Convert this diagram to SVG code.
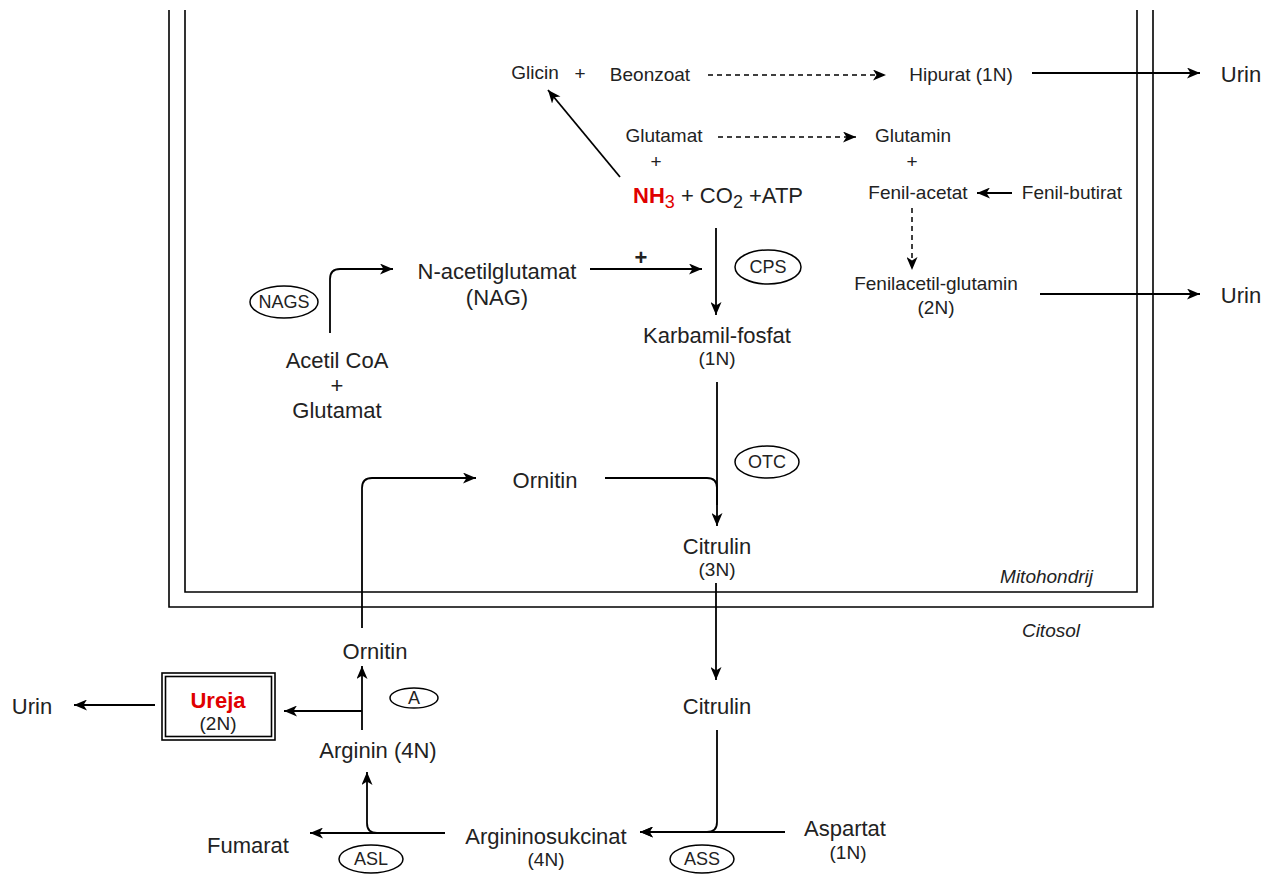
<svg xmlns="http://www.w3.org/2000/svg" width="1277" height="876" viewBox="0 0 1277 876">
<defs>
<marker id="ah" viewBox="0 0 13 11" refX="13" refY="5.5" markerWidth="13" markerHeight="11" orient="auto" markerUnits="userSpaceOnUse">
<path d="M0,0 L13,5.5 L0,11 L3.5,5.5 z" fill="#000"/>
</marker>
<style>
text{font-family:"Liberation Sans",Arial,sans-serif;fill:#222}
.m{font-size:22px}
.s{font-size:19px}
.e{font-size:18px}
.c{text-anchor:middle}
.i{font-style:italic;font-size:19px;text-anchor:end}
.red{fill:#e00000;font-weight:bold}
.ln{fill:none;stroke:#000;stroke-width:1.8}
.ar{fill:none;stroke:#000;stroke-width:1.8;marker-end:url(#ah)}
.da{fill:none;stroke:#000;stroke-width:1.5;stroke-dasharray:5 4;marker-end:url(#ah)}
.el{fill:#fff;stroke:#000;stroke-width:1.5}
.bx{fill:none;stroke:#000;stroke-width:1.6}
</style>
</defs>
<rect width="1277" height="876" fill="#fff"/>
<g id="compartments">
<path class="bx" d="M169,10 V607 H1153 V10"/>
<path class="bx" d="M185,10 V592 H1137 V10"/>
<text class="i" x="1093" y="583">Mitohondrij</text>
<text class="i" x="1080" y="637">Citosol</text>
</g>
<g id="connectors">
<path class="da" d="M708,75 H886"/>
<path class="ar" d="M1032,73 H1200"/>
<path class="ar" d="M620,177 L548,90"/>
<path class="da" d="M718,137 H856"/>
<path class="ar" d="M1012,193 H977"/>
<path class="da" d="M912,208 V270"/>
<path class="ar" d="M1040,294 H1200"/>
<path class="ar" d="M716,228 V315"/>
<path class="ar" d="M590,269 H702"/>
<path class="ar" d="M330,333 V279 Q330,269 340,269 H393"/>
<path class="ar" d="M717,382 V526"/>
<path class="ar" d="M362,628 V488 Q362,478 372,478 H476"/>
<path class="ln" d="M605,478 H707 Q717,478 717,488 V505"/>
<path class="ar" d="M716,583 V680"/>
<path class="ar" d="M717,730 V822 Q717,832 707,832 H640"/>
<path class="ar" d="M785,832 H640"/>
<path class="ar" d="M445,833 H310"/>
<path class="ar" d="M377,833 Q367,833 367,823 V772"/>
<path class="ar" d="M362,730 V666"/>
<path class="ar" d="M362,711 H284"/>
<path class="ar" d="M155,705 H74"/>
</g>
<g id="glicin"><text class="s c" x="535" y="79">Glicin</text></g>
<g id="plus1"><text class="s c" x="580" y="80">+</text></g>
<g id="beonzoat"><text class="s c" x="650" y="81">Beonzoat</text></g>
<g id="hipurat"><text class="s c" x="961" y="81">Hipurat (1N)</text></g>
<g id="urin1"><text class="m c" x="1241" y="82">Urin</text></g>
<g id="glutamat1"><text class="s c" x="664" y="142">Glutamat</text></g>
<g id="glutamin"><text class="s c" x="913" y="142">Glutamin</text></g>
<g id="plus2"><text class="s c" x="656" y="168">+</text></g>
<g id="plus3"><text class="s c" x="912" y="168">+</text></g>
<g id="nh3"><text class="m" x="633" y="203"><tspan class="red">NH</tspan><tspan fill="#e00000" font-size="18" dy="5">3</tspan><tspan dy="-5"> + CO</tspan><tspan font-size="18" dy="5">2</tspan><tspan dy="-5"> +ATP</tspan></text></g>
<g id="fenilacetat"><text class="s c" x="918" y="199">Fenil-acetat</text></g>
<g id="fenilbutirat"><text class="s c" x="1072" y="199">Fenil-butirat</text></g>
<g id="fenilacetilglutamin"><text class="s c" x="936" y="290">Fenilacetil-glutamin</text><text class="s c" x="936" y="314">(2N)</text></g>
<g id="urin2"><text class="m c" x="1241" y="303">Urin</text></g>
<g id="cps"><ellipse class="el" cx="768" cy="267" rx="33" ry="17"/><text class="e c" x="768" y="273">CPS</text></g>
<g id="nag"><text class="m c" x="497" y="279">N-acetilglutamat</text><text class="m c" x="497" y="305">(NAG)</text></g>
<g id="plus4"><text class="m c" x="641" y="265" font-weight="bold">+</text></g>
<g id="nags"><ellipse class="el" cx="284" cy="302" rx="34" ry="16"/><text class="e c" x="284" y="308">NAGS</text></g>
<g id="acetilcoa"><text class="m c" x="337" y="368">Acetil CoA</text><text class="m c" x="337" y="393">+</text><text class="m c" x="337" y="418">Glutamat</text></g>
<g id="karbamil"><text class="m c" x="717" y="343">Karbamil-fosfat</text><text class="s c" x="717" y="365">(1N)</text></g>
<g id="otc"><ellipse class="el" cx="767" cy="462" rx="32" ry="16"/><text class="e c" x="767" y="468">OTC</text></g>
<g id="ornitin1"><text class="m c" x="545" y="488">Ornitin</text></g>
<g id="citrulin1"><text class="m c" x="717" y="554">Citrulin</text><text class="s c" x="717" y="576">(3N)</text></g>
<g id="ornitin2"><text class="m c" x="375" y="659">Ornitin</text></g>
<g id="a"><ellipse class="el" cx="414" cy="698" rx="24" ry="10"/><text class="e c" x="414" y="704">A</text></g>
<g id="ureja"><rect class="bx" x="162" y="673" width="113" height="67"/><rect class="bx" x="165.5" y="676.5" width="106" height="60"/><text class="m c red" x="218" y="708">Ureja</text><text class="s c" x="218" y="730">(2N)</text></g>
<g id="urin3"><text class="m c" x="32" y="714">Urin</text></g>
<g id="arginin"><text class="m c" x="378" y="758">Arginin (4N)</text></g>
<g id="citrulin2"><text class="m c" x="717" y="714">Citrulin</text></g>
<g id="argininosukcinat"><text class="m c" x="546" y="844">Argininosukcinat</text><text class="s c" x="546" y="866">(4N)</text></g>
<g id="aspartat"><text class="m c" x="845" y="836">Aspartat</text><text class="s c" x="848" y="859">(1N)</text></g>
<g id="ass"><ellipse class="el" cx="702" cy="859" rx="32" ry="14"/><text class="e c" x="702" y="865">ASS</text></g>
<g id="fumarat"><text class="m c" x="248" y="853">Fumarat</text></g>
<g id="asl"><ellipse class="el" cx="371" cy="859" rx="32" ry="14"/><text class="e c" x="371" y="865">ASL</text></g>
</svg>
